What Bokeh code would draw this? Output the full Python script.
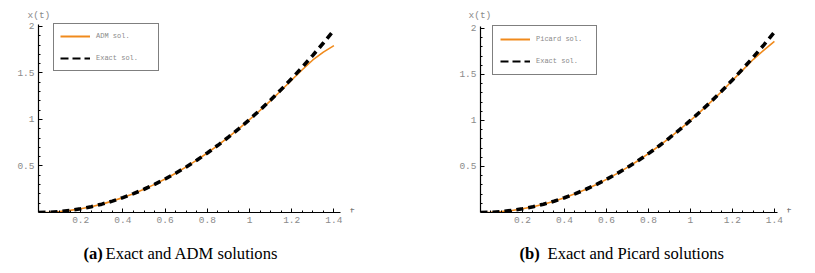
from bokeh.plotting import figure
from bokeh.layouts import row, column
from bokeh.models import Range1d, FixedTicker, Legend, LegendItem, Label
from bokeh.core.properties import value
from bokeh.embed import file_html
from bokeh.resources import INLINE

# ---- data ----
t = [0.0, 0.05, 0.1, 0.15, 0.2, 0.25, 0.3, 0.35, 0.4, 0.45, 0.5, 0.55, 0.6, 0.65,
     0.7, 0.75, 0.8, 0.85, 0.9, 0.95, 1.0, 1.05, 1.1, 1.15, 1.2, 1.25, 1.3, 1.35, 1.4]
exact = [0.0, 0.0025, 0.01, 0.0225, 0.04, 0.0625, 0.09, 0.1225, 0.16, 0.2025, 0.25,
         0.3025, 0.36, 0.4225, 0.49, 0.5625, 0.64, 0.7225, 0.81, 0.9025, 1.0, 1.1025,
         1.21, 1.3225, 1.44, 1.5625, 1.69, 1.8225, 1.96]
adm = [0.0, 0.0025, 0.01, 0.0225, 0.04, 0.0625, 0.09, 0.1225, 0.16, 0.2025, 0.25,
       0.3025, 0.36, 0.4225, 0.49, 0.5625, 0.64, 0.7225, 0.81, 0.902, 0.998, 1.098,
       1.203, 1.312, 1.425, 1.535, 1.64, 1.725, 1.795]
picard = [0.0, 0.0025, 0.01, 0.0225, 0.04, 0.0625, 0.09, 0.1225, 0.16, 0.2025, 0.25,
          0.3025, 0.36, 0.4225, 0.49, 0.5625, 0.64, 0.7225, 0.81, 0.9025, 1.0, 1.101,
          1.207, 1.318, 1.435, 1.55, 1.665, 1.765, 1.86]

x_ticks = [0.2, 0.4, 0.6, 0.8, 1.0, 1.2, 1.4]
x_minor = [0.05 * i for i in range(1, 29)]
y_ticks = [0.5, 1.0, 1.5, 2.0]
y_minor = [0.1 * i for i in range(1, 21)]

ORANGE = "#F08A1C"
MONO = "Liberation Mono"
GRAY = "#8a8a8a"


def panel(approx, approx_name, width, borders, xend, yend, xbound, ybound,
          legend_loc, legend_pad, label_width, title_off, t_x):
    bl, br, bt, bb = borders
    p = figure(width=width, height=240, output_backend="svg", toolbar_location=None,
               x_range=Range1d(0, xend), y_range=Range1d(0, yend),
               min_border_left=bl, min_border_right=br,
               min_border_top=bt, min_border_bottom=bb)
    p.outline_line_color = None
    p.grid.visible = False
    p.background_fill_color = "white"
    p.border_fill_color = "white"

    # "x(t)" axis caption above the y axis
    p.title.text = "x(t)"
    p.title.align = "left"
    p.title.offset = title_off
    p.title.standoff = 4
    p.title.text_font = MONO
    p.title.text_font_size = "9.5px"
    p.title.text_font_style = "normal"
    p.title.text_color = GRAY

    for ax, ticks, minor, bnd in ((p.xaxis[0], x_ticks, x_minor, xbound),
                                  (p.yaxis[0], y_ticks, y_minor, ybound)):
        ax.ticker = FixedTicker(ticks=ticks, minor_ticks=minor)
        ax.bounds = (0, bnd)
        ax.axis_line_color = "black"
        ax.axis_line_width = 1.2
        ax.major_tick_line_color = "black"
        ax.minor_tick_line_color = "black"
        ax.major_tick_in = 4
        ax.major_tick_out = 0
        ax.minor_tick_in = 2
        ax.minor_tick_out = 0
        ax.major_label_text_font = MONO
        ax.major_label_text_font_size = "9.5px"
        ax.major_label_text_color = GRAY
        ax.major_label_standoff = 4
    p.xaxis[0].major_label_overrides = {1.0: "1"}
    p.yaxis[0].major_label_overrides = {1.0: "1", 2.0: "2"}

    p.line(t, approx, line_color=ORANGE, line_width=1.6)
    p.line(t, exact, line_color="black", line_width=3.6, line_dash="7 5")
    # single-point copies (draw nothing) that give the thinner legend keys
    k1 = p.line(t[:1], approx[:1], line_color=ORANGE, line_width=2)
    k2 = p.line(t[:1], exact[:1], line_color="black", line_width=2.2, line_dash="8 4")

    leg = Legend(items=[LegendItem(label=approx_name, renderers=[k1]),
                        LegendItem(label="Exact sol.", renderers=[k2])],
                 location=legend_loc, orientation="vertical",
                 padding=legend_pad, spacing=10, margin=0,
                 glyph_width=30, glyph_height=12, label_height=12,
                 label_width=label_width, label_standoff=6,
                 label_text_font=MONO, label_text_font_size="7px",
                 label_text_color=GRAY, border_line_color="black",
                 border_line_width=1.5, background_fill_color="white",
                 background_fill_alpha=1.0)
    p.add_layout(leg)

    p.add_layout(Label(x=t_x, y=0, text="t", text_font=MONO, text_font_size="10px",
                       text_color="#777777", text_align="center",
                       text_baseline="alphabetic"))
    return p


def caption(width, borders, letter, text, x1, x2):
    bl, br = borders
    # the frame of this figure is aligned with the plot above it, so map
    # its x range to pixel offsets from the figure's left edge
    c = figure(width=width, height=33, output_backend="svg", toolbar_location=None,
               x_range=Range1d(bl, width - br), y_range=Range1d(0, 33),
               x_axis_type=None, y_axis_type=None,
               min_border_left=0, min_border_right=0, min_border_top=0, min_border_bottom=0)
    c.outline_line_color = None
    c.grid.visible = False
    c.text(x=[x1], y=[20], text=[letter], text_font=value("Liberation Serif"),
           text_font_size="16.6px", text_font_style="bold", text_color="black",
           text_align="left", text_baseline="middle")
    c.text(x=[x2], y=[20], text=[text], text_font=value("Liberation Serif"),
           text_font_size="16.6px", text_color="black",
           text_align="left", text_baseline="middle")
    return c


p1 = panel(adm, "ADM sol.", 408, (38, 48, 22, 28), 1.526, 2.043, 1.43, 2.02,
           (15, 141), 6, 56, -11, 1.488)
p2 = panel(picard, "Picard sol.", 407, (72, 18, 22, 28), 1.51, 2.065, 1.414, 2.02,
           (12, 137), 7, 53, -12, 1.471)
c1 = caption(408, (38, 48), "(a)", "Exact and ADM solutions", 83, 105)
c2 = caption(407, (72, 18), "(b)", "Exact and Picard solutions", 111, 139)

layout = row(column(p1, c1), column(p2, c2))
open("out.html", "w").write(file_html(layout, INLINE))
